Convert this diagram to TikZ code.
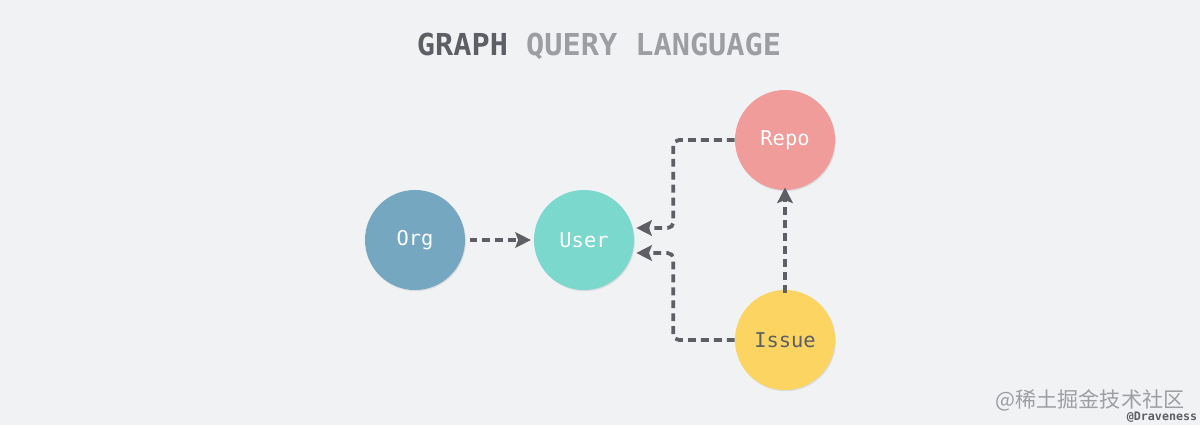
\documentclass[tikz,border=0pt]{standalone}
\usepackage{fontspec}
\setmonofont{DejaVu Sans Mono}
\newfontfamily\cjkfont{Noto Sans CJK SC}
\usetikzlibrary{arrows.meta, shadows}
\definecolor{bg}{RGB}{240, 242, 244}
\definecolor{ink}{RGB}{94, 95, 100}
\definecolor{soft}{RGB}{157, 158, 162}
\definecolor{orgc}{RGB}{117, 167, 192}
\definecolor{userc}{RGB}{122, 216, 204}
\definecolor{repoc}{RGB}{240, 156, 154}
\definecolor{issuec}{RGB}{252, 212, 98}

\tikzset{
  entity/.style={circle, minimum size=2.5cm, inner sep=0pt, text=white,
    font=\ttfamily\fontsize{14.5}{16}\selectfont,
    drop shadow={opacity=0.18, shadow xshift=0.6pt, shadow yshift=-0.9pt}},
  flow/.style={draw=ink, line width=2.6pt, dash pattern=on 5.6pt off 3.6pt,
    rounded corners=4pt, -{Stealth[length=11pt, width=11pt, inset=2pt]}}
}

\begin{document}
\begin{tikzpicture}[x=0.025cm, y=-0.025cm]

\fill[bg] (0, 0) rectangle (1200, 425);
\useasboundingbox (0, 0) rectangle (1200, 425);

\node[font=\ttfamily\bfseries\fontsize{21.5}{24}\selectfont] (title) at (599, 46)
{\color{ink}GRAPH \color{soft}QUERY LANGUAGE};

\node[entity, fill=orgc] (org) at (415, 240) {Org};
\node[entity, fill=userc] (user) at (584, 240) {User};
\node[entity, fill=repoc] (repo) at (785, 140) {Repo};
\node[entity, fill=issuec, text=ink] (issue) at (785, 340) {Issue};

\draw[flow] ([xshift=3]org.east) -- ([xshift=-2]user.west);

\draw[flow] (repo.west) -| ([shift={(39,-12)}]user.east) -- ([shift={(2,-12)}]user.east);

\draw[flow] (issue.west) -| ([shift={(39,13)}]user.east) -- ([shift={(2,13)}]user.east);

\draw[flow] ([yshift=-2]issue.north) -- ([yshift=2]repo.south);

\node[text=soft, font=\cjkfont\fontsize{15}{17}\selectfont] (mark) at (1090, 400) {@稀土掘金技术社区};
\node[text=ink, font=\ttfamily\bfseries\fontsize{8.3}{9}\selectfont] (author) at (1162, 417) {@Draveness};

\end{tikzpicture}
\end{document}
